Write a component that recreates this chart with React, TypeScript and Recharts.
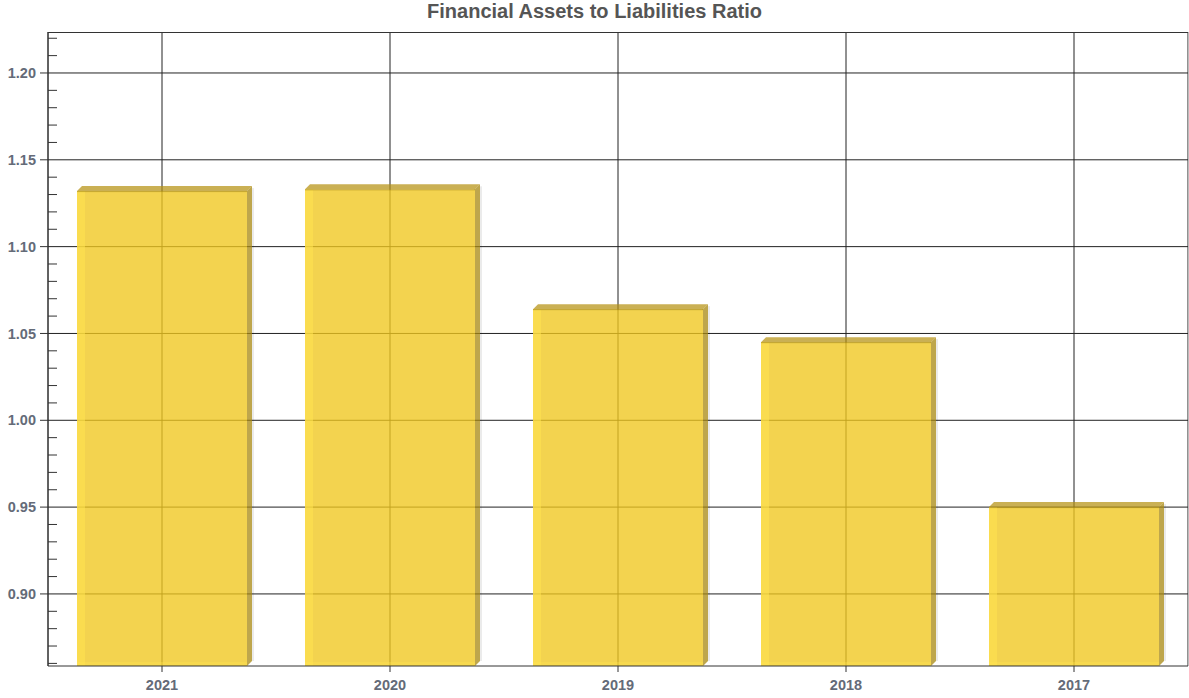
import { BarChart, Bar, XAxis, YAxis, CartesianGrid } from 'recharts';

const years = ['2021', '2020', '2019', '2018', '2017'];
const ratios = [1.132, 1.133, 1.064, 1.045, 0.95];

const majorTicks = [0.9, 0.95, 1.0, 1.05, 1.1, 1.15, 1.2];
const minorTicks = [
  0.86, 0.87, 0.88, 0.89, 0.91, 0.92, 0.93, 0.94, 0.96, 0.97, 0.98, 0.99,
  1.01, 1.02, 1.03, 1.04, 1.06, 1.07, 1.08, 1.09, 1.11, 1.12, 1.13, 1.14,
  1.16, 1.17, 1.18, 1.19, 1.21, 1.22,
];
const yDomain = [0.8585, 1.2236];

const data = years.map((year, i) => ({ year, value: ratios[i] }));

const FONT = "'Liberation Sans', Arial, sans-serif";
const LABEL_COLOR = '#646b78';

function YTick(props: any) {
  const { x, y, payload } = props;
  const isMajor = majorTicks.some((t) => Math.abs(t - payload.value) < 1e-6);
  if (!isMajor) {
    return <line x1={x} x2={x + 9} y1={y} y2={y} stroke="#333" strokeWidth={1} />;
  }
  return (
    <g>
      <line x1={x - 8} x2={x} y1={y} y2={y} stroke="#333" strokeWidth={1} />
      <text
        x={x - 12}
        y={y}
        dy="0.35em"
        textAnchor="end"
        fill={LABEL_COLOR}
        style={{ fontFamily: FONT, fontSize: 14.5, fontWeight: 700 }}
      >
        {payload.value.toFixed(2)}
      </text>
    </g>
  );
}

function Bar3D(props: any) {
  const { x, y, width, height } = props;
  const d = 5;
  return (
    <g>
      <rect x={x + width + d} y={y - d + 2} width={2} height={height - 2} fill="rgba(0,0,0,0.08)" />
      <rect x={x} y={y} width={width} height={height} fill="rgba(240,198,30,0.78)" />
      <rect x={x} y={y} width={8} height={height} fill="rgba(255,228,80,0.55)" />
      <rect x={x} y={y + height - 4} width={width} height={4} fill="rgba(255,228,80,0.35)" />
      <polygon
        points={`${x},${y} ${x + d},${y - d} ${x + width + d},${y - d} ${x + width},${y}`}
        fill="rgba(182,146,18,0.72)"
      />
      <polygon
        points={`${x + width},${y} ${x + width + d},${y - d} ${x + width + d},${y + height - d} ${x + width},${y + height}`}
        fill="rgba(168,136,16,0.75)"
      />
      <line x1={x} x2={x + width} y1={y + 0.5} y2={y + 0.5} stroke="rgba(150,120,10,0.5)" />
    </g>
  );
}

export default function App() {
  return (
    <div style={{ position: 'absolute', left: 0, top: 0, width: 1189, height: 698, background: '#fff' }}>
      <div
        style={{
          position: 'absolute',
          top: 0,
          left: 0,
          width: 1189,
          textAlign: 'center',
          fontFamily: FONT,
          fontSize: 20,
          fontWeight: 700,
          color: '#555',
        }}
      >
        Financial Assets to Liabilities Ratio
      </div>
      <BarChart
        width={1189}
        height={698}
        data={data}
        margin={{ top: 32, right: 1, bottom: 0, left: 0 }}
      >
        <CartesianGrid
          stroke="#222"
          strokeWidth={1}
          horizontalValues={majorTicks}
        />
        <XAxis
          dataKey="year"
          height={32}
          axisLine={{ stroke: '#333' }}
          tickLine={{ stroke: '#333' }}
          tickSize={6}
          tickMargin={8}
          tick={{ fill: LABEL_COLOR, fontSize: 14.5, fontWeight: 700, fontFamily: FONT }}
        />
        <YAxis
          type="number"
          domain={yDomain}
          allowDataOverflow
          ticks={[...minorTicks, ...majorTicks].sort((a, b) => a - b)}
          interval={0}
          width={48}
          tickSize={0}
          tickMargin={0}
          tickLine={false}
          axisLine={{ stroke: '#333' }}
          tick={<YTick />}
        />
        <Bar dataKey="value" barSize={170} shape={<Bar3D />} isAnimationActive={false} />
        <line x1={48} x2={1188} y1={32.5} y2={32.5} stroke="#333" />
        <line x1={1188.5} x2={1188.5} y1={32} y2={666} stroke="#bbb" />
      </BarChart>
    </div>
  );
}
